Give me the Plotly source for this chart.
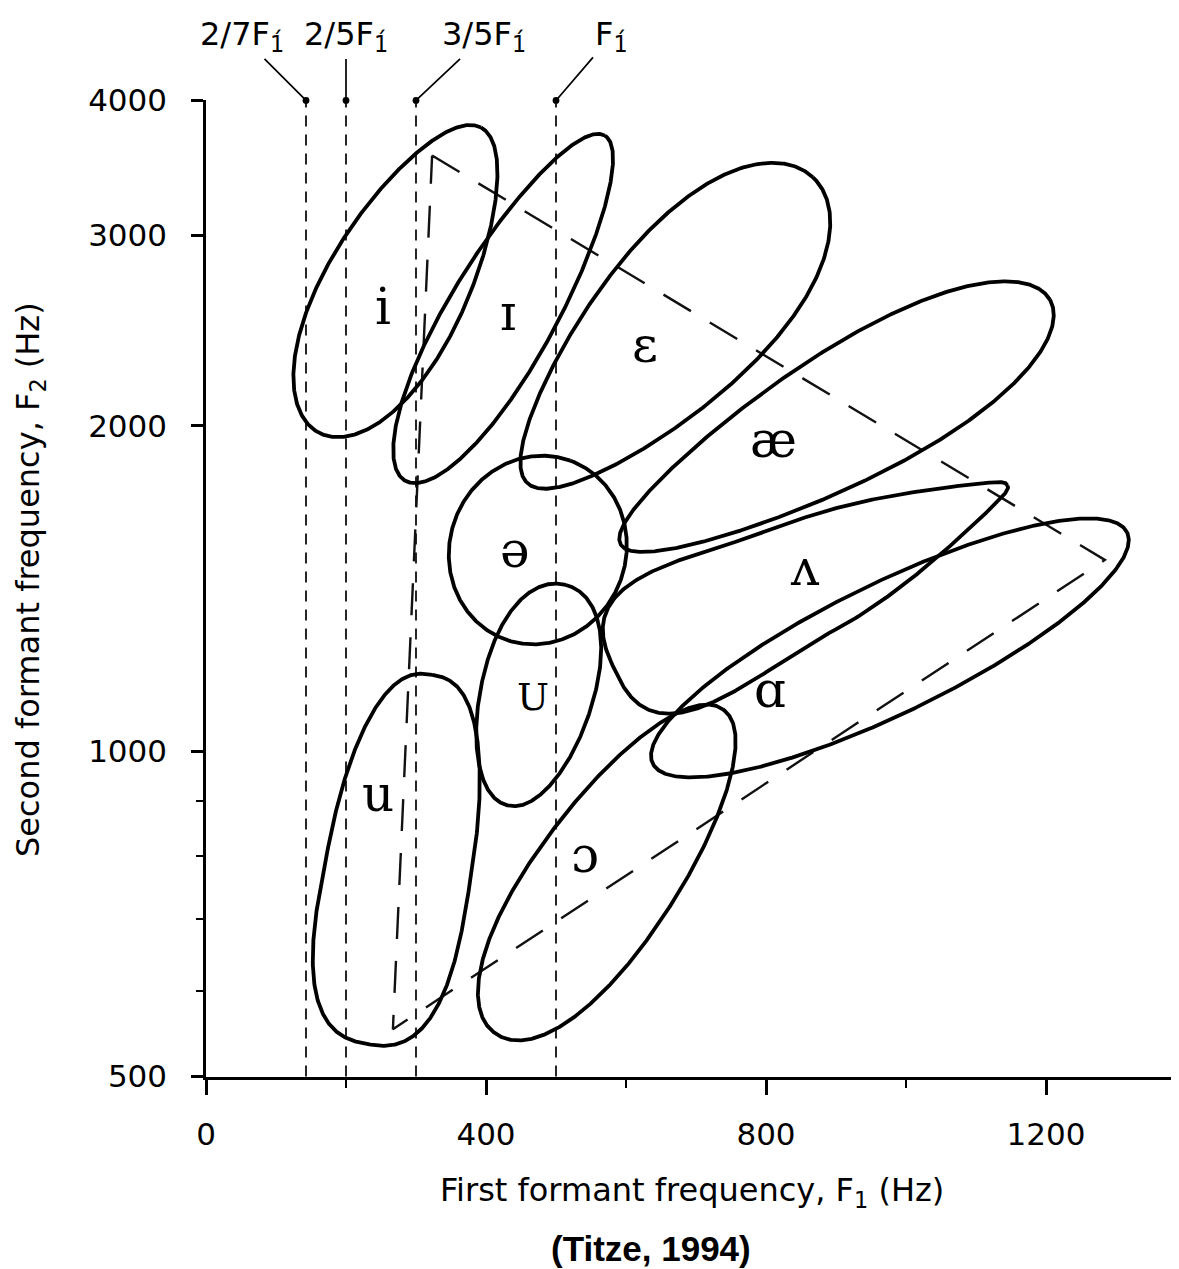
import numpy as np
import plotly.graph_objects as go

# ---------------- data ----------------
vowels = ["i", "ɪ", "ɛ", "æ", "ə", "U", "ʌ", "ɑ", "u", "ɔ"]
# region centre (Hz)
center_f1 = [277, 427, 663, 899, 474, 472, 864, 977, 277, 576]
center_f2 = [2728, 2570, 2452, 2016, 1535, 1127, 1449, 1246, 794, 774]
# semi-axes in F1-equivalent Hz, tilt in degrees (visual), egg factor, squareness
semi_major = [247, 285, 299, 353, 136, 163, 310, 377, 268, 283]
semi_minor = [100, 76, 116, 94, 126, 80, 83, 93, 104, 100]
tilt_deg = [62, 60, 47, 29.7, 70, 75, 25, 26, 80, 55]
egg = [-0.15, -0.1, 0.25, 0.25, 0.0, 0.1, -0.75, 0.0, -0.12, -0.1]
squareness = [2.0, 2.0, 2.0, 2.0, 2.0, 2.1, 2.8, 2.0, 2.6, 2.1]
# label positions (Hz)
label_f1 = [253, 431, 627, 810, 441, 467, 856, 806, 246, 541]
label_f2 = [2574, 2542, 2375, 1940, 1535, 1122, 1477, 1140, 912, 802]

# harmonic reference lines
F1_REF = 500
ratios = [2 / 7, 2 / 5, 3 / 5, 1.0]
ratio_labels = ["2/7F<sub>1\u0301</sub>", "2/5F<sub>1\u0301</sub>",
                "3/5F<sub>1\u0301</sub>", "F<sub>1\u0301</sub>"]

# vowel triangle (dashed)
tri_f1 = [323, 1284, 267, 323]
tri_f2 = [3557, 1503, 553, 3557]

x_ticks = [0, 400, 800, 1200]
x_minor = [200, 600, 1000]
y_ticks = [500, 1000, 2000, 3000, 4000]
y_minor = [600, 700, 800, 900]

# ---------------- layout constants ----------------
PAGE_PAD = 8                     # default body margin of the html page
W, H = 1179 - PAGE_PAD, 1269 - PAGE_PAD
ML, MR, MT, MB = 198, 0, 92, 192
PLOT_W = W - ML - MR
PLOT_H = H - MT - MB
X_MAX = 1390
Y_MIN, Y_MAX = 500, 4000
K = (PLOT_H / (np.log10(Y_MAX) - np.log10(Y_MIN))) / (PLOT_W / X_MAX)


def px_to_paper(px, py):
    """page pixel -> paper coords (for titles)"""
    return ((px - PAGE_PAD - ML) / PLOT_W, (H - MB + PAGE_PAD - py) / PLOT_H)


fig = go.Figure()

for r in ratios:
    fig.add_trace(go.Scatter(x=[F1_REF * r, F1_REF * r], y=[Y_MIN, Y_MAX],
                             mode="lines", line=dict(color="black", width=1.7, dash="11px,8px"),
                             hoverinfo="skip", showlegend=False))

fig.add_trace(go.Scatter(x=tri_f1, y=tri_f2, mode="lines",
                         line=dict(color="#111", width=2.4, dash="32px,22px"),
                         hoverinfo="skip", showlegend=False))

t = np.linspace(0, 2 * np.pi, 721)
for cx, cy, a, b, th, e, p in zip(center_f1, center_f2, semi_major, semi_minor,
                                  tilt_deg, egg, squareness):
    th = np.radians(th)
    c, s = np.cos(t), np.sin(t)
    u = a * np.sign(c) * np.abs(c) ** (2 / p)
    v = b * (1 + e * c) * np.sign(s) * np.abs(s) ** (2 / p)
    X = cx + u * np.cos(th) - v * np.sin(th)
    Y = np.log10(cy) * K + u * np.sin(th) + v * np.cos(th)
    fig.add_trace(go.Scatter(x=X, y=10 ** (Y / K), mode="lines",
                             line=dict(color="black", width=3.8),
                             hoverinfo="skip", showlegend=False))

for vw, lx, ly in zip(vowels, label_f1, label_f2):
    size = 38 if vw == "U" else 50
    fig.add_annotation(x=lx, y=np.log10(ly), text=vw, showarrow=False,
                       xanchor="center", yanchor="middle",
                       font=dict(family="DejaVu Serif", size=size, color="black"))

offsets = [(-64, -64), (0, -64), (68, -64), (55, -64)]
for r, txt, (ax, ay) in zip(ratios, ratio_labels, offsets):
    fig.add_annotation(x=F1_REF * r, y=np.log10(Y_MAX), text=txt, showarrow=True,
                       ax=ax, ay=ay, arrowhead=6, arrowsize=1.0, arrowwidth=1.7,
                       arrowcolor="black", standoff=0,
                       font=dict(family="DejaVu Sans", size=32, color="black"))

fig.add_shape(type="line", xref="paper", x0=0, x1=1, yref="y",
              y0=np.log10(Y_MAX), y1=np.log10(Y_MAX), line=dict(color="black", width=2.4))

xt = px_to_paper(692, 1192)
yt = px_to_paper(30, 580)
cp = px_to_paper(651, 1248)
fig.add_annotation(xref="paper", yref="paper", x=xt[0], y=xt[1], xanchor="center", yanchor="middle",
                   text="First formant frequency, F<sub>1</sub> (Hz)", showarrow=False,
                   font=dict(family="DejaVu Sans", size=32, color="black"))
fig.add_annotation(xref="paper", yref="paper", x=yt[0], y=yt[1], xanchor="center", yanchor="middle",
                   text="Second formant frequency, F<sub>2</sub> (Hz)", showarrow=False, textangle=-90,
                   font=dict(family="DejaVu Sans", size=32, color="black"))
fig.add_annotation(xref="paper", yref="paper", x=cp[0], y=cp[1], xanchor="center", yanchor="middle",
                   text="<b>(Titze, 1994)</b>", showarrow=False,
                   font=dict(family="Liberation Sans", size=35, color="black"))

fig.update_layout(
    width=W, height=H, margin=dict(l=ML, r=MR, t=MT, b=MB),
    paper_bgcolor="white", plot_bgcolor="white", showlegend=False,
    xaxis=dict(range=[0, X_MAX], tickvals=x_ticks, ticks="outside", ticklen=15, tickwidth=2.5,
               tickcolor="black", showline=True, linecolor="black", linewidth=2.5,
               showgrid=False, zeroline=False, ticklabelstandoff=13,
               tickfont=dict(family="DejaVu Sans", size=31, color="black"),
               minor=dict(tickvals=x_minor, ticks="outside", ticklen=8, tickwidth=2, tickcolor="black")),
    yaxis=dict(type="log", range=[np.log10(Y_MIN) - 0.0004, np.log10(Y_MAX) + 0.0004],
               tickvals=y_ticks, ticktext=[str(v) for v in y_ticks],
               ticks="outside", ticklen=12, tickwidth=2.5, tickcolor="black",
               showline=True, linecolor="black", linewidth=2.5, showgrid=False, zeroline=False,
               ticklabelstandoff=18,
               tickfont=dict(family="DejaVu Sans", size=31, color="black"),
               minor=dict(tickvals=y_minor, ticks="outside", ticklen=7, tickwidth=2, tickcolor="black")),
)

fig.write_html("out.html")
